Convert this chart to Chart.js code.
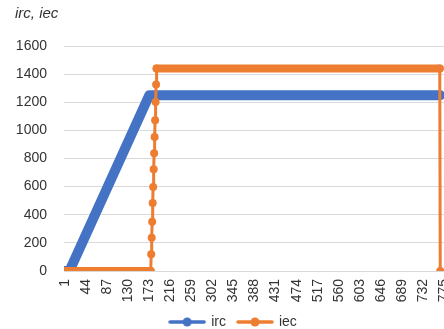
<!DOCTYPE html>
<html>
<head>
<meta charset="utf-8">
<script src="https://cdn.jsdelivr.net/npm/chart.js@4.4.1/dist/chart.umd.min.js"></script>
<style>
  html, body { margin: 0; padding: 0; background: #ffffff; overflow: hidden; }
  #wrap { width: 464px; height: 329px; }
</style>
</head>
<body>
<div id="wrap"><canvas id="chart" width="464" height="329"></canvas></div>
<script>
// Time axis: labelled categories (every 43rd step)
const tickLabels = [1, 44, 87, 130, 173, 216, 259, 302, 345, 388, 431, 474, 517, 560, 603, 646, 689, 732, 775];
// Value axis ticks
const yTicks = [0, 200, 400, 600, 800, 1000, 1200, 1400, 1600];

// irc: breakpoints (category step, value)
const ircX = [1, 10, 173, 767];
const ircY = [0, 0, 1250, 1250];

// iec: zero, stepped rise, plateau, drop back to zero
const iecX = [1, 176, 177, 178, 179, 180, 181, 182, 183, 184, 185, 186, 187, 188, 766, 767];
const iecY = [0, 0, 119, 236, 350, 483, 598, 724, 837, 953, 1072, 1202, 1327, 1440, 1440, 0];

const BLUE = '#4472C4';
const ORANGE = '#ED7D31';
const TEXT = '#333333';
const GRID = '#d9d9d9';
const FONT = '"Liberation Sans", Arial, sans-serif';

const toPoints = (xs, ys) => xs.map((x, i) => ({ x: x, y: ys[i] }));

// Legend icon: short line with a round marker
function legendIcon(color) {
  const c = document.createElement('canvas');
  c.width = 38; c.height = 10;
  const g = c.getContext('2d');
  g.strokeStyle = color;
  g.lineWidth = 3.5;
  g.lineCap = 'round';
  g.beginPath(); g.moveTo(2, 5); g.lineTo(36, 5); g.stroke();
  g.fillStyle = color;
  g.beginPath(); g.arc(19, 5, 4.5, 0, Math.PI * 2); g.fill();
  return c;
}
const icons = [legendIcon(BLUE), legendIcon(ORANGE)];

// Nudge the legend block a little to the left of the canvas centre
const legendNudge = {
  id: 'legendNudge',
  afterLayout(chart) {
    if (chart.legend) {
      chart.legend.left -= 6;
      chart.legend.right -= 6;
    }
  }
};

new Chart(document.getElementById('chart'), {
  type: 'line',
  plugins: [legendNudge],
  data: {
    datasets: [
      {
        label: 'irc',
        data: toPoints(ircX, ircY),
        borderColor: BLUE,
        backgroundColor: BLUE,
        borderWidth: 10,
        borderCapStyle: 'round',
        borderJoinStyle: 'round',
        pointRadius: 0,
        tension: 0,
        order: 1
      },
      {
        label: 'iec',
        data: toPoints(iecX, iecY),
        borderColor: ORANGE,
        backgroundColor: ORANGE,
        borderWidth: 3,
        borderCapStyle: 'round',
        borderJoinStyle: 'round',
        segment: {
          borderWidth: ctx => (ctx.p0.parsed.y === ctx.p1.parsed.y ? 8 : 3)
        },
        pointRadius: 4,
        pointBorderWidth: 0,
        pointBackgroundColor: ORANGE,
        tension: 0,
        order: 0
      }
    ]
  },
  options: {
    responsive: false,
    animation: false,
    events: [],
    layout: { autoPadding: false, padding: { left: 15, right: 0, top: 5, bottom: -10 } },
    plugins: {
      tooltip: { enabled: false },
      title: {
        display: true,
        text: 'irc, iec',
        align: 'start',
        color: TEXT,
        font: { family: FONT, size: 15, style: 'italic', weight: 'normal' },
        padding: { top: 0, bottom: 23 }
      },
      legend: {
        display: true,
        position: 'bottom',
        labels: {
          usePointStyle: true,
          pointStyleWidth: 34,
          padding: 12,
          color: TEXT,
          font: { family: FONT, size: 14 },
          generateLabels: chart => chart.data.datasets.map((ds, i) => ({
            text: ds.label,
            pointStyle: icons[i],
            fillStyle: ds.borderColor,
            strokeStyle: ds.borderColor,
            lineWidth: 0,
            fontColor: TEXT,
            hidden: false,
            datasetIndex: i
          }))
        }
      }
    },
    scales: {
      x: {
        type: 'linear',
        min: -1,
        max: 815.5,
        afterBuildTicks: scale => { scale.ticks = tickLabels.map(v => ({ value: v })); },
        afterFit: scale => { scale.height = 32; scale.paddingRight = 0; },
        grid: { display: false, drawTicks: false },
        border: { display: false },
        ticks: {
          autoSkip: false,
          minRotation: 90,
          maxRotation: 90,
          padding: 8,
          color: TEXT,
          font: { family: FONT, size: 14 },
          callback: v => String(v)
        }
      },
      y: {
        min: 0,
        max: 1600,
        afterBuildTicks: scale => { scale.ticks = yTicks.map(v => ({ value: v })); },
        afterFit: scale => { scale.width = 49; },
        grid: { color: GRID, lineWidth: 1, drawTicks: false },
        border: { display: false },
        ticks: {
          padding: 17,
          color: TEXT,
          font: { family: FONT, size: 14 },
          callback: v => String(v)
        }
      }
    }
  }
});
</script>
</body>
</html>
